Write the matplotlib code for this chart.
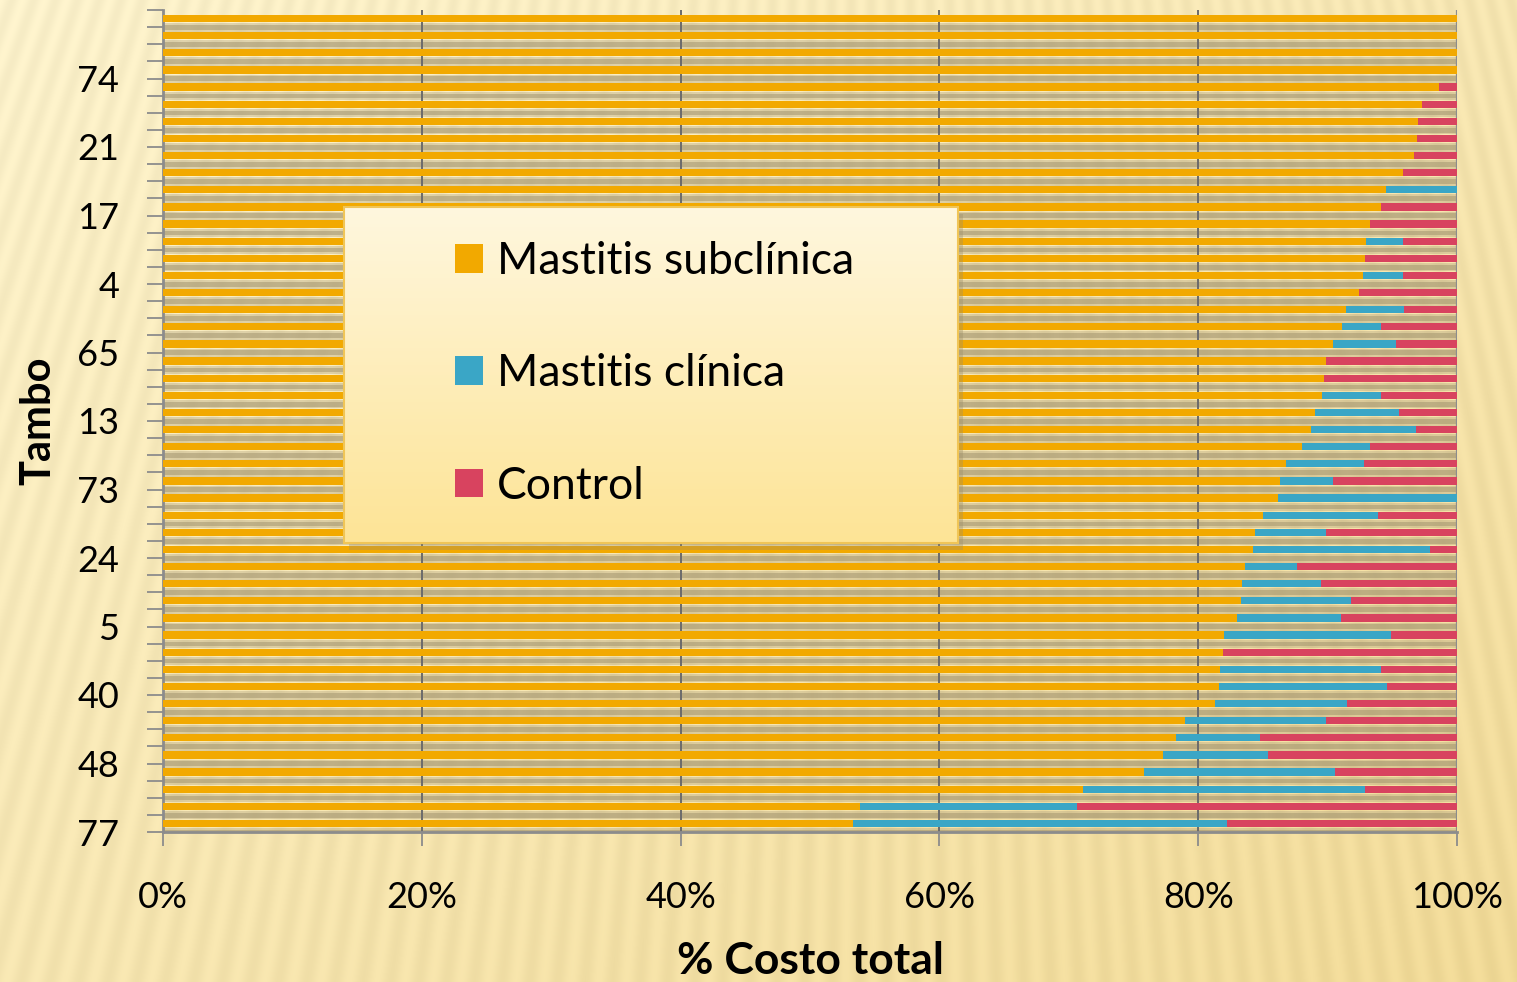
import numpy as np
import matplotlib.pyplot as plt
from matplotlib.patches import Patch, Rectangle

# % of total cost per farm (tambo), bars listed from top to bottom
sub_pct = [100.0, 100.0, 100.0, 100.0, 98.6, 97.3, 97.0, 96.9, 96.7, 95.8,
           94.5, 94.1, 93.3, 93.0, 92.9, 92.7, 92.4, 91.4, 91.1, 90.4,
           89.9, 89.7, 89.6, 89.0, 88.7, 88.0, 86.8, 86.3, 86.2, 85.0,
           84.4, 84.2, 83.6, 83.4, 83.3, 83.0, 82.0, 81.9, 81.7, 81.6,
           81.3, 79.0, 78.3, 77.3, 75.8, 71.1, 53.9, 53.3]
clin_pct = [0.0, 0.0, 0.0, 0.0, 0.0, 0.0, 0.0, 0.0, 0.0, 0.0,
            5.5, 0.0, 0.0, 2.8, 0.0, 3.1, 0.0, 4.5, 3.0, 4.9,
            0.0, 0.0, 4.5, 6.5, 8.1, 5.3, 6.0, 4.1, 13.8, 8.9,
            5.5, 13.7, 4.0, 6.1, 8.5, 8.0, 12.9, 0.0, 12.4, 13.0,
            10.2, 10.9, 6.5, 8.1, 14.8, 21.8, 16.7, 28.9]
ctrl_pct = [0.0, 0.0, 0.0, 0.0, 1.4, 2.7, 3.0, 3.1, 3.3, 4.2,
            0.0, 5.9, 6.7, 4.2, 7.1, 4.2, 7.6, 4.1, 5.9, 4.7,
            10.1, 10.3, 5.9, 4.5, 3.2, 6.7, 7.2, 9.6, 0.0, 6.1,
            10.1, 2.1, 12.4, 10.5, 8.2, 9.0, 5.1, 18.1, 5.9, 5.4,
            8.5, 10.1, 15.2, 14.6, 9.4, 7.1, 29.4, 17.8]

# axis labels shown (bottom to top, one every 4 bars)
tambo_labels = ['77', '48', '40', '5', '24', '73', '13', '65', '4', '17', '21', '74']
series_names = ['Mastitis subclínica', 'Mastitis clínica', 'Control']
colors = ['#f2a900', '#3aa6c6', '#d8435f']

plt.rcParams['font.family'] = ['Lato', 'DejaVu Sans']

W, H = 1517, 982
fig = plt.figure(figsize=(W / 100, H / 100), dpi=100)

# textured paper background (rays + soft gradient)
yy, xx = np.mgrid[0:H, 0:W].astype(float)
ang = np.arctan2(xx - 900, yy + 2500)
rays = 0.5 + 0.5 * np.cos(ang * 800)
grad = np.clip((xx / W) * 0.5 + (yy / H) * 0.5, 0, 1)[..., None]
light = np.array([251, 241, 203]) / 255
dark = np.array([240, 217, 150]) / 255
bg = light * (1 - grad) + dark * grad
bg = np.clip(bg + 0.035 * (rays[..., None] - 0.5), 0, 1)
bg_ax = fig.add_axes([0, 0, 1, 1], zorder=-5)
bg_ax.imshow(bg, aspect='auto', interpolation='bilinear')
bg_ax.axis('off')

ax = fig.add_axes([163 / W, 1 - 832 / H, (1457 - 163) / W, (832 - 10) / H])
ax.set_facecolor('none')

n = len(sub_pct)
y = np.arange(n)[::-1]          # first entry on top
sub = np.array(sub_pct)
clin = np.array(clin_pct)
ctrl = np.array(ctrl_pct)

bar_h = 0.42
# soft shadow under every bar
ax.barh(y - 0.52, sub + clin + ctrl, height=0.5, color='#b3a581', alpha=0.4, zorder=1)
ax.barh(y - 0.52, sub + clin + ctrl, height=0.28, color='#a0926c', alpha=0.5, zorder=1)

for gx in [20, 40, 60, 80]:
    ax.axvline(gx, color='#6b6b6b', lw=1.4, zorder=2)
ax.axvline(100, color='#8c8c8c', lw=1.6, zorder=2)

b1 = ax.barh(y, sub, height=bar_h, color=colors[0], zorder=3)
b2 = ax.barh(y, clin, left=sub, height=bar_h, color=colors[1], zorder=3)
b3 = ax.barh(y, ctrl, left=sub + clin, height=bar_h, color=colors[2], zorder=3)

ax.set_xlim(0, 100)
ax.set_ylim(-0.5, n - 0.5)

ax.set_xticks([0, 20, 40, 60, 80, 100])
ax.set_xticklabels([f'{v}%' for v in [0, 20, 40, 60, 80, 100]], fontsize=26)
bounds = np.arange(n + 1) - 0.5
ylabs = [''] * len(bounds)
for k, lab in enumerate(tambo_labels):
    ylabs[4 * k] = lab
ax.set_yticks(bounds)
ax.set_yticklabels(ylabs, fontsize=26)
ax.tick_params(axis='y', length=11.5, width=1.3, color='#8c8c8c', pad=20)
ax.tick_params(axis='x', length=10, width=1.3, color='#8c8c8c', pad=25)

for side in ['top', 'right']:
    ax.spines[side].set_visible(False)
for side in ['left', 'bottom']:
    ax.spines[side].set_color('#8c8c8c')
    ax.spines[side].set_linewidth(2)

ax.set_xlabel('% Costo total', fontsize=32, fontweight='bold', labelpad=20)
ax.set_ylabel('Tambo', fontsize=30, fontweight='bold', labelpad=14)

# legend box with gradient fill
lx0, lx1 = (344 - 163) / 1294, (958 - 163) / 1294
ly0, ly1 = (832 - 543) / 822, (832 - 207) / 822
ax.add_patch(Rectangle((lx0 + 0.004, ly0 - 0.008), lx1 - lx0, ly1 - ly0,
                       transform=ax.transAxes, facecolor='#9c8f6a', alpha=0.35,
                       edgecolor='none', zorder=4))
grad_img = np.linspace(0, 1, 100)[:, None, None]
top_c = np.array([255, 247, 222]) / 255
bot_c = np.array([253, 228, 150]) / 255
leg_img = top_c * (1 - grad_img) + bot_c * grad_img
ax.imshow(np.repeat(leg_img, 2, axis=1), extent=(lx0, lx1, ly0, ly1),
          transform=ax.transAxes, aspect='auto', zorder=5)
ax.add_patch(Rectangle((lx0, ly0), lx1 - lx0, ly1 - ly0, transform=ax.transAxes,
                       facecolor='none', edgecolor='#f0c557', lw=1.5, zorder=6))
ax.set_xlim(0, 100)
ax.set_ylim(-0.5, n - 0.5)

handles = [Patch(facecolor=c, edgecolor='none') for c in colors]
leg = ax.legend(handles, series_names, loc='center left',
                bbox_to_anchor=((455 - 163) / 1294, (832 - 374) / 822),
                frameon=False, fontsize=32, handlelength=0.62, handleheight=0.62,
                handletextpad=0.32, labelspacing=1.6, borderpad=0, borderaxespad=0)
leg.set_zorder(7)

fig.savefig('out.png', dpi=100)
